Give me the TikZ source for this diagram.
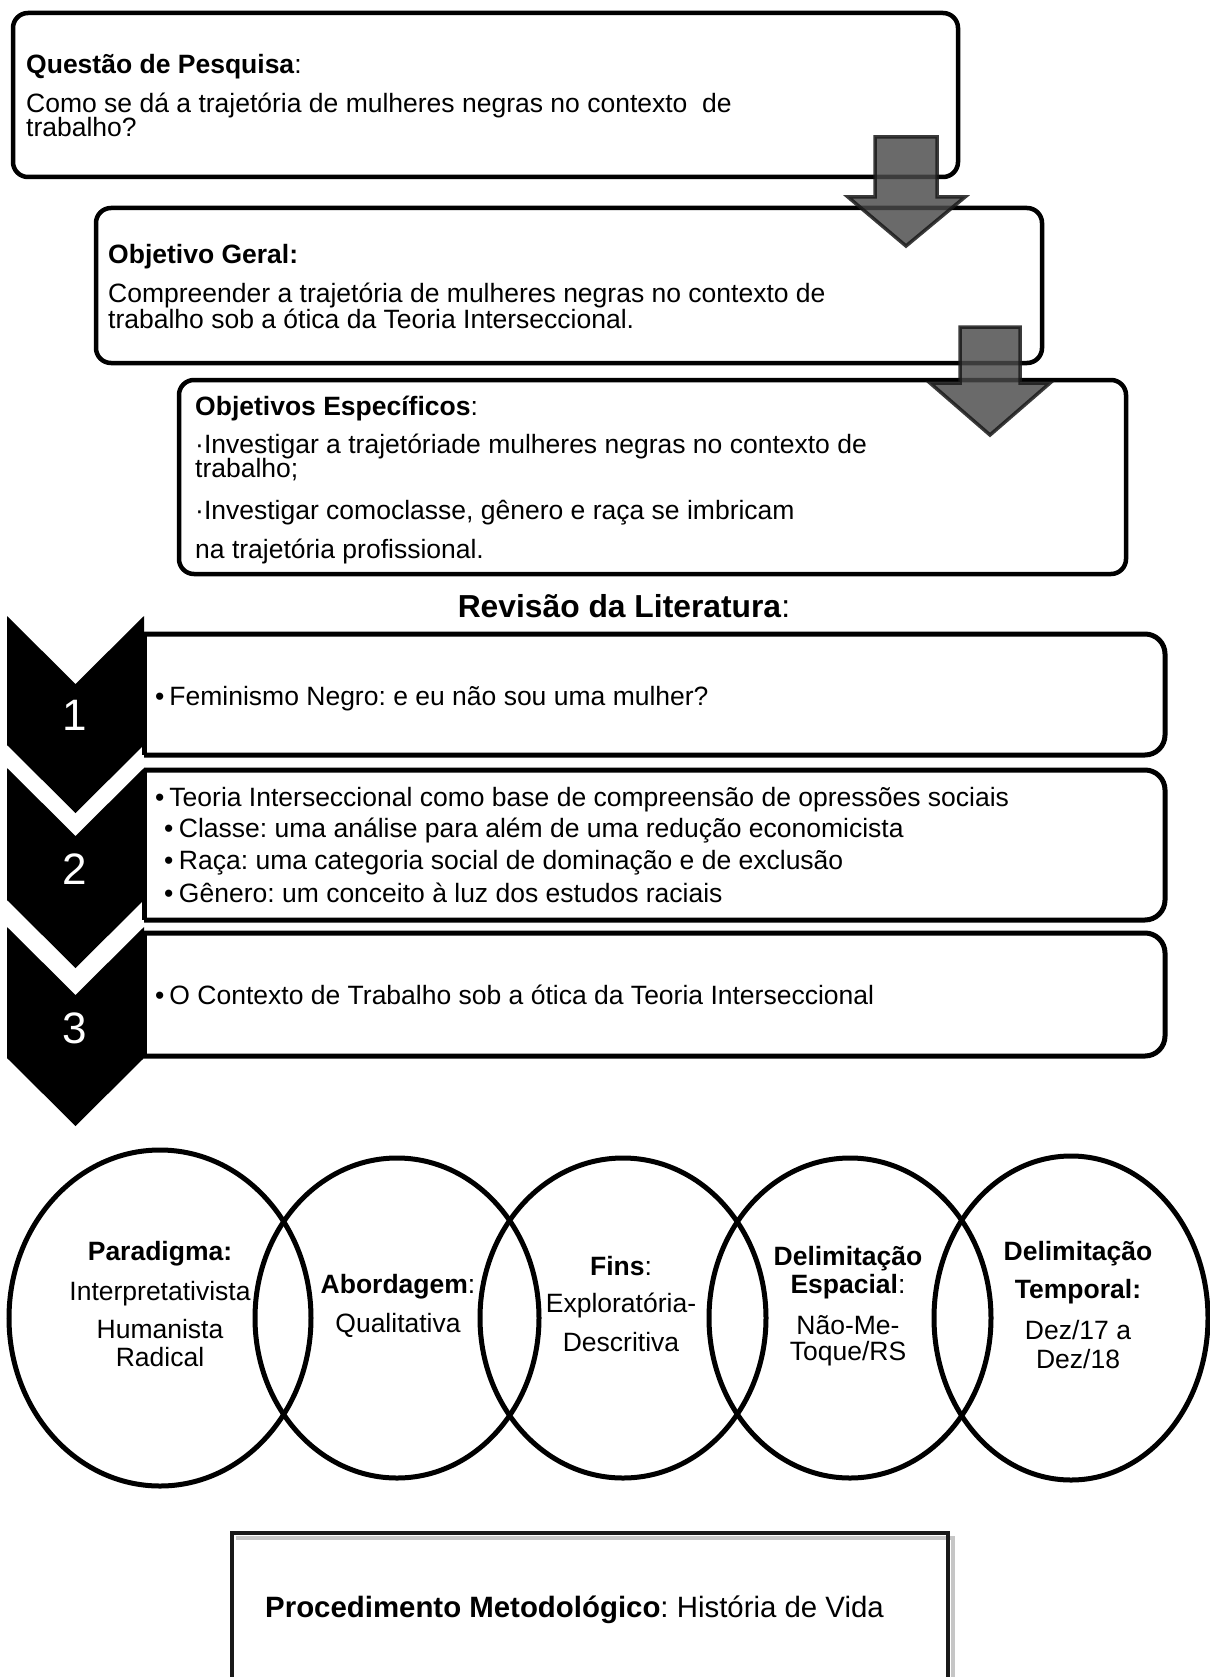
\documentclass[tikz,border=0pt]{standalone}
\usepackage{fontspec}
\setmainfont{Liberation Sans}
\frenchspacing
\definecolor{arrowgray}{gray}{0.29}
\definecolor{arrowline}{gray}{0.1}
\begin{document}
\begin{tikzpicture}[x=1pt,y=-1pt,
  topbox/.style={line width=4.5pt, rounded corners=15pt},
  litbox/.style={line width=5pt},
  chev/.style={fill=black},
  garrow/.style={fill=arrowgray, fill opacity=0.82, draw=arrowline, draw opacity=0.85, line width=3.5pt, line join=miter},
  circ/.style={line width=5pt},
  txt/.style={anchor=base west, inner sep=0pt, font=\fontsize{26.5}{28}\selectfont},
  ctxt/.style={anchor=base, inner sep=0pt, font=\fontsize{26.5}{28}\selectfont},
  num/.style={anchor=base, inner sep=0pt, text=white, font=\fontsize{44}{44}\selectfont},
]
\useasboundingbox (0,0) rectangle (1209,1677);
\fill[white] (0,0) rectangle (1209,1677);

% top boxes
\draw[topbox] (13,13) rectangle (958,177);
\draw[topbox] (96,208) rectangle (1042,363);
\draw[topbox] (179,380) rectangle (1126,574);

% gray arrows
\draw[garrow] (875,137) -- (937,137) -- (937,197) -- (965,197) -- (906,246) -- (848,197) -- (875,197) -- cycle;
\draw[garrow] (960,327) -- (1020,327) -- (1020,383) -- (1050,383) -- (990,435) -- (930,383) -- (960,383) -- cycle;

% texts of top boxes
\node[txt] (q1) at (26,74) {\textbf{Questão de Pesquisa}:};
\node[txt] (q2) at (26,113) {Como se dá a trajetória de mulheres negras no contexto\ \ de};
\node[txt] (q3) at (26,137) {trabalho?};

\node[txt] (g1) at (108,264) {\textbf{Objetivo Geral:}};
\node[txt] (g2) at (108,302) {Compreender a trajetória de mulheres negras no contexto de};
\node[txt] (g3) at (108,328) {trabalho sob a ótica da Teoria Interseccional.};

\node[txt] (e1) at (195,415) {\textbf{Objetivos Específicos}:};
\node[txt] (e2) at (195,453) {·Investigar a trajetóriade mulheres negras no contexto de};
\node[txt] (e3) at (195,477) {trabalho;};
\node[txt] (e4) at (195,519) {·Investigar comoclasse, gênero e raça se imbricam};
\node[txt] (e5) at (195,558) {na trajetória profissional.};

\node[anchor=base, inner sep=0pt, font=\fontsize{31.8}{34}\selectfont] (rev) at (624,617) {\textbf{Revisão da Literatura}:};

% literature boxes
\draw[litbox, rounded corners=20pt, line cap=square] (144,634) -- (1165,634) -- (1165,755) -- (144,755);
\draw[litbox] (144,634) -- (144,755);
\draw[litbox, rounded corners=20pt, line cap=square] (144,770) -- (1165,770) -- (1165,920) -- (144,920);
\draw[litbox] (144,770) -- (144,920);
\draw[litbox, rounded corners=20pt, line cap=square] (144,933) -- (1165,933) -- (1165,1056) -- (144,1056);
\draw[litbox] (144,933) -- (144,1056);

% chevrons
\fill[chev] (7,616) -- (75.5,684) -- (144,616) -- (144,745) -- (75.5,813) -- (7,745) -- cycle;
\fill[chev] (7,768) -- (75.5,836) -- (144,768) -- (144,900) -- (75.5,968) -- (7,900) -- cycle;
\fill[chev] (7,927) -- (75.5,995) -- (144,927) -- (144,1058) -- (75.5,1126) -- (7,1058) -- cycle;
\node[num] (n1) at (75,730) {1};
\node[num] (n2) at (75,884) {2};
\node[num] (n3) at (75,1043) {3};

% literature texts
\node[txt] (l1) at (155,705) {•\hspace{5pt}Feminismo Negro: e eu não sou uma mulher?};
\node[txt] (l2) at (155,806) {•\hspace{5pt}Teoria Interseccional como base de compreensão de opressões sociais};
\node[txt] (l3) at (164,837) {•\hspace{5.5pt}Classe: uma análise para além de uma redução economicista};
\node[txt] (l4) at (164,869) {•\hspace{5.5pt}Raça: uma categoria social de dominação e de exclusão};
\node[txt] (l5) at (164,902) {•\hspace{5.5pt}Gênero: um conceito à luz dos estudos raciais};
\node[txt] (l6) at (155,1004) {•\hspace{5pt}O Contexto de Trabalho sob a ótica da Teoria Interseccional};

% ellipses
\draw[circ] (160,1318) ellipse [x radius=151pt, y radius=168pt];
\draw[circ] (397,1318) ellipse [x radius=142pt, y radius=160pt];
\draw[circ] (623,1318) ellipse [x radius=143pt, y radius=160pt];
\draw[circ] (850,1318) ellipse [x radius=141pt, y radius=160pt];
\draw[circ] (1071,1318) ellipse [x radius=137pt, y radius=162pt];

\node[ctxt] (p1) at (160,1260) {\textbf{Paradigma:}};
\node[ctxt] (p2) at (160,1300) {Interpretativista};
\node[ctxt] (p3) at (160,1338) {Humanista};
\node[ctxt] (p4) at (160,1366) {Radical};

\node[ctxt] (a1) at (398,1293) {\textbf{Abordagem}:};
\node[ctxt] (a2) at (398,1332) {Qualitativa};

\node[ctxt] (f1) at (621,1275) {\textbf{Fins}:};
\node[ctxt] (f2) at (621,1312) {Exploratória-};
\node[ctxt] (f3) at (621,1351) {Descritiva};

\node[ctxt] (d1) at (848,1265) {\textbf{Delimitação}};
\node[ctxt] (d2) at (848,1293) {\textbf{Espacial}:};
\node[ctxt] (d3) at (848,1334) {Não-Me-};
\node[ctxt] (d4) at (848,1360) {Toque/RS};

\node[ctxt] (t1) at (1078,1260) {\textbf{Delimitação}};
\node[ctxt] (t2) at (1078,1298) {\textbf{Temporal:}};
\node[ctxt] (t3) at (1078,1339) {Dez/17 a};
\node[ctxt] (t4) at (1078,1368) {Dez/18};

% final box
\draw[gray!45, line width=4pt] (236,1538) -- (953,1538) -- (953,1700);
\draw[line width=4.5pt, draw=black!90] (232,1533) rectangle (948,1700);
\node[txt, font=\fontsize{29.4}{31}\selectfont] (proc) at (265,1617) {\textbf{Procedimento Metodológico}: História de Vida};
\end{tikzpicture}
\end{document}
